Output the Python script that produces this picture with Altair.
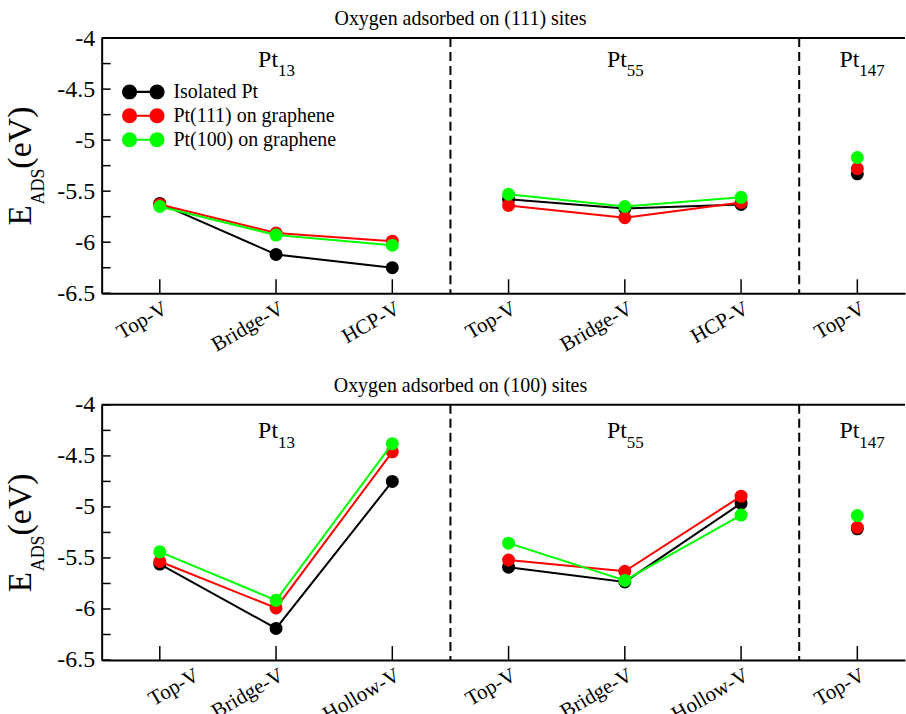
import json
import altair as alt
import pandas as pd

FONT = "Liberation Serif"

series = ["Isolated Pt", "Pt(111) on graphene", "Pt(100) on graphene"]
colors = ["#000000", "#ff0000", "#00ff00"]
positions = [1, 2, 3, 4, 5, 6, 7]
clusters = ["Pt13", "Pt13", "Pt13", "Pt55", "Pt55", "Pt55", "Pt147"]
sites_111 = ["Top-V", "Bridge-V", "HCP-V", "Top-V", "Bridge-V", "HCP-V", "Top-V"]
sites_100 = ["Top-V", "Bridge-V", "Hollow-V", "Top-V", "Bridge-V", "Hollow-V", "Top-V"]

# Oxygen adsorbed on (111) sites
iso_111 = [-5.62, -6.12, -6.25, -5.58, -5.67, -5.63, -5.33]
p111_111 = [-5.63, -5.91, -5.99, -5.64, -5.76, -5.61, -5.28]
p100_111 = [-5.65, -5.93, -6.03, -5.53, -5.65, -5.56, -5.17]

# Oxygen adsorbed on (100) sites
iso_100 = [-5.56, -6.19, -4.75, -5.59, -5.735, -4.965, -5.215]
p111_100 = [-5.535, -5.99, -4.46, -5.52, -5.63, -4.895, -5.20]
p100_100 = [-5.44, -5.915, -4.38, -5.355, -5.72, -5.08, -5.085]

separators = [3.5, 6.5]
label_pos = [2, 5, 7]
label_main = ["Pt", "Pt", "Pt"]
label_sub = ["13", "55", "147"]
y_labels = [-4, -4.5, -5, -5.5, -6, -6.5]
y_ticks = [-4, -4.25, -4.5, -4.75, -5, -5.25, -5.5, -5.75, -6, -6.25, -6.5]

W = 806
H = 256
XMAX = 7.41

LEGEND_PATH = ("M -1 0 A 1 1 0 1 1 1 0 A 1 1 0 1 1 -1 0 Z "
               "M 2.68 0 A 1 1 0 1 1 4.68 0 A 1 1 0 1 1 2.68 0 Z "
               "M 0 -0.14 L 3.68 -0.14 L 3.68 0.14 L 0 0.14 Z")


def panel(title, sites, vals, show_legend, pt_y, sub_y, first_shift):
    rows = []
    for s, vs in zip(series, vals):
        for p, c, site, v in zip(positions, clusters, sites, vs):
            rows.append(dict(series=s, pos=p, cluster=c, site=site, value=v))
    df = pd.DataFrame(rows)

    xscale = alt.Scale(domain=[0.5, XMAX], nice=False, zero=False)
    yscale = alt.Scale(domain=[-6.5, -4], nice=False, zero=False)
    xaxis = alt.Axis(values=positions, labelExpr=json.dumps(sites) + "[datum.value - 1]",
                     labelAngle=-30, labelAlign="right", labelBaseline="top",
                     labelFont=FONT, labelFontSize=21, labelColor="black", labelPadding=4,
                     labelOffset={"condition": {"test": "datum.value == 1", "value": first_shift},
                                  "value": 0},
                     ticks=False, grid=False, title=None, domainColor="black", domainWidth=2,
                     labelOverlap=False)
    yaxis = alt.Axis(values=y_labels, labelExpr="'' + datum.value", labelFont=FONT,
                     labelFontSize=24, labelColor="black", labelPadding=7, ticks=False,
                     grid=False, title=None, domainColor="black", domainWidth=2)

    def X(f):
        return alt.X(f, scale=xscale, axis=xaxis)

    def Y(f):
        return alt.Y(f, scale=yscale, axis=yaxis)

    legend = None
    if show_legend:
        legend = alt.Legend(title=None, orient="none", legendX=18, legendY=44,
                            direction="vertical",
                            symbolType=LEGEND_PATH, symbolSize=225, symbolStrokeWidth=0,
                            labelFont=FONT, labelFontSize=20, labelColor="black",
                            labelOffset=34, rowPadding=4, labelLimit=400)
    cscale = alt.Scale(domain=series, range=colors)

    layers = []
    # frame top line
    layers.append(alt.Chart(alt.Data(values=[{}])).mark_rule(color="black", strokeWidth=2)
                  .encode(x=alt.value(0), x2=alt.value(W), y=alt.value(0)))
    # separators
    layers.append(alt.Chart(pd.DataFrame({"sep": separators}))
                  .mark_rule(color="black", strokeWidth=2, strokeDash=[9, 5])
                  .encode(x=X("sep:Q")))
    # inward ticks
    layers.append(alt.Chart(pd.DataFrame({"yt": y_ticks})).mark_rule(color="black", strokeWidth=1.5)
                  .encode(y=Y("yt:Q"), x=alt.value(0), x2=alt.value(9)))
    layers.append(alt.Chart(pd.DataFrame({"xt": positions})).mark_rule(color="black", strokeWidth=1.5)
                  .encode(x=X("xt:Q"), y=alt.value(H), y2=alt.value(H - 14)))

    for s in series:
        base = alt.Chart(df).transform_filter(alt.datum.series == s)
        layers.append(base.mark_line(strokeWidth=2).encode(
            x=X("pos:Q"), y=Y("value:Q"),
            stroke=alt.Stroke("series:N", scale=cscale, legend=None),
            detail="cluster:N", order="pos:Q"))
        layers.append(base.mark_circle(size=170, opacity=1).encode(
            x=X("pos:Q"), y=Y("value:Q"),
            color=alt.Color("series:N", scale=cscale, legend=legend)))

    ann = pd.DataFrame({"pos": label_pos, "main": label_main, "sub": label_sub})
    layers.append(alt.Chart(ann).mark_text(font=FONT, fontSize=24, align="right", baseline="alphabetic",
                                           dx=2, color="black")
                  .encode(x=X("pos:Q"), y=alt.value(pt_y), text="main:N"))
    layers.append(alt.Chart(ann).mark_text(font=FONT, fontSize=17, align="left", baseline="alphabetic",
                                           dx=2, color="black")
                  .encode(x=X("pos:Q"), y=alt.value(sub_y), text="sub:N"))

    # y-axis title E_ADS(eV)
    for txt, size, xo, yo in [("E", 33, -71, 188), ("ADS", 18, -58, 167), ("(eV)", 34, -71, 131)]:
        layers.append(alt.Chart(alt.Data(values=[{}])).mark_text(
            text=txt, font=FONT, fontSize=size, angle=270, align="left", baseline="alphabetic",
            color="black").encode(x=alt.value(xo), y=alt.value(yo)))

    return alt.layer(*layers).properties(
        width=W, height=H,
        title=alt.TitleParams(title, font=FONT, fontSize=20, fontWeight="normal", color="black",
                              anchor="middle", frame="group", dx=-43, offset=-19,
                              baseline="alphabetic"))


top = panel("Oxygen adsorbed on (111) sites", sites_111, [iso_111, p111_111, p100_111], True, 29, 38, 0)
bottom = panel("Oxygen adsorbed on (100) sites", sites_100, [iso_100, p111_100, p100_100], False, 33, 43, 32)

chart = alt.vconcat(top, bottom, spacing=21).resolve_legend(color="independent").properties(
    padding={"left": 4, "top": 8, "right": 0, "bottom": 0},
    background="white"
).configure_view(stroke=None)

chart.save("out.html", embed_options={"renderer": "svg", "actions": False})
